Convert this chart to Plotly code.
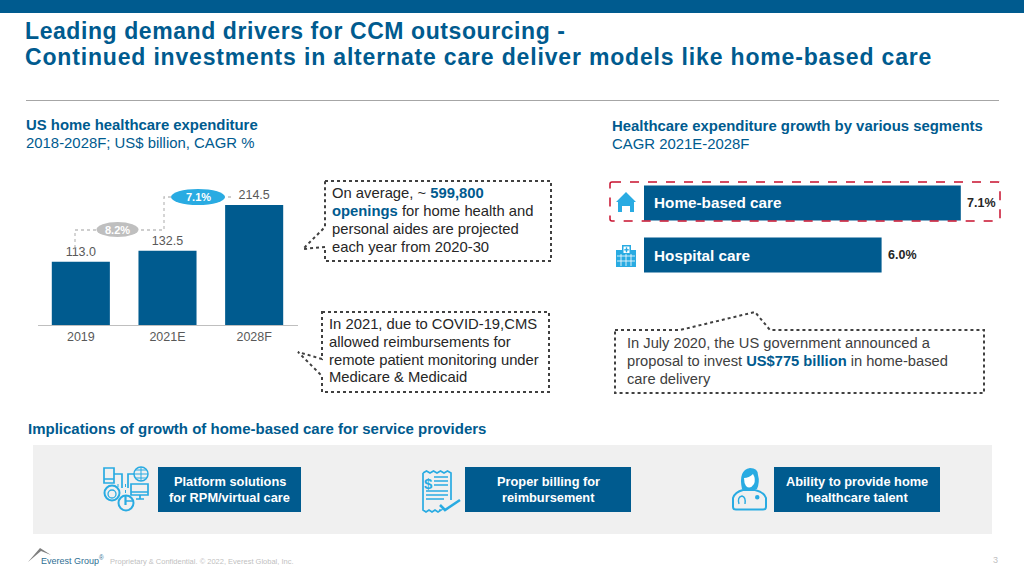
import plotly.graph_objects as go

# ---- data ----
exp_categories = ["2019", "2021E", "2028F"]
exp_values = [113.0, 132.5, 214.5]
exp_labels = ["113.0", "132.5", "214.5"]
cagr_labels_left = ["8.2%", "7.1%"]
segment_names = ["Home-based care", "Hospital care"]
segment_values = [7.1, 6.0]
segment_labels = ["7.1%", "6.0%"]
title_lines = ["Leading demand drivers for CCM outsourcing -",
               "Continued investments in alternate care deliver models like home-based care"]
driver_labels = [["Platform solutions", "for RPM/virtual care"],
                 ["Proper billing for", "reimbursement"],
                 ["Ability to provide home", "healthcare talent"]]

BLUE = "#005B8F"
SKY = "#29ABE2"
GRAY = "#595959"
DARK = "#262626"
FONT = "Liberation Sans"
W, H = 1024, 576

fig = go.Figure()
fig.add_trace(go.Bar(x=exp_categories, y=exp_values, text=exp_labels, textposition="outside",
                     marker=dict(color=BLUE, line_width=0), width=0.67,
                     textfont=dict(size=12.5, color=GRAY, family=FONT), cliponaxis=False,
                     xaxis="x", yaxis="y", showlegend=False))
fig.add_trace(go.Bar(y=segment_names, x=segment_values, orientation="h",
                     marker=dict(color=BLUE, line_width=0), width=0.673,
                     xaxis="x2", yaxis="y2", showlegend=False))

shapes, ann = [], []
def S(**k):
    k.setdefault("xref", "x3"); k.setdefault("yref", "y3"); k.setdefault("layer", "below")
    shapes.append(k)
def rect(x0, y0, x1, y1, fill, layer="below"):
    S(type="rect", x0=x0, y0=y0, x1=x1, y1=y1, fillcolor=fill, line_width=0, layer=layer)
def path(d, fill=None, line=None, w=1.0, dash=None, layer="above"):
    ln = dict(color=line or "rgba(0,0,0,0)", width=w if line else 0)
    if dash: ln["dash"] = dash
    S(type="path", path=d, fillcolor=fill or "rgba(0,0,0,0)", line=ln, layer=layer)
def T(x, y, text, size=14, color=DARK, anchor="left"):
    ann.append(dict(x=x, y=y - 1, xref="x3", yref="y3", text=text, showarrow=False, xanchor=anchor,
                    yanchor="middle", align=anchor, borderpad=0, borderwidth=0,
                    font=dict(family=FONT, size=size, color=color)))
def lines(x, ys, texts, size=14.8, color=DARK, anchor="left"):
    for y, t in zip(ys, texts):
        T(x, y, t, size=size, color=color, anchor=anchor)

# page furniture
rect(0, 0, 1024, 13, BLUE)
S(type="line", x0=26, x1=999, y0=100.5, y1=100.5, line=dict(color="#A6A6A6", width=1))
lines(25, (32, 57.5), ["<b>" + t + "</b>" for t in title_lines], size=23, color=BLUE)
lines(26, (126, 144), ["<b>US home healthcare expenditure</b>", "2018-2028F; US$ billion, CAGR %"], size=14.9, color=BLUE)
lines(612, (127, 145), ["<b>Healthcare expenditure growth by various segments</b>", "CAGR 2021E-2028F"], size=14.9, color=BLUE)
T(28, 429, "<b>Implications of growth of home-based care for service providers</b>", size=15, color=BLUE)

# CAGR connectors and pills
CONN = dict(color="#BFBFBF", width=1.3, dash="dot")
S(type="path", path="M75,248 V230 H164 V197 H232", line=CONN, layer="above")
def pill(cx, cy, rx, ry, fill, label):
    S(type="circle", x0=cx-rx, x1=cx+rx, y0=cy-ry, y1=cy+ry, fillcolor=fill, line_width=0, layer="above")
    T(cx, cy + 1, "<b>" + label + "</b>", size=11, color="#FFFFFF", anchor="center")
pill(117.5, 229.5, 21, 7.5, "#BFBFBF", cagr_labels_left[0])
pill(198, 197, 27, 8, SKY, cagr_labels_left[1])

# callouts
D = dict(line="#404040", w=2, dash="dot")
path("M325,181 H551 V261 H325 V247 L303,249 L325,227 Z", **D)
path("M322,312 H549 V392 H322 V376 L298,352 L322,359 Z", **D)
path("M615,330 H680 L755,312 L770,330 H984 V393 H615 Z", **D)
HL = '<span style="color:%s"><b>%%s</b></span>' % BLUE
lines(332, (194, 212, 230, 248), ["On average, ~ " + HL % "599,800", HL % "openings" + " for home health and",
                                  "personal aides are projected", "each year from 2020-30"])
lines(329, (325, 343, 361, 378), ["In 2021, due to COVID-19,CMS", "allowed reimbursements for",
                                  "remote patient monitoring under", "Medicare &amp; Medicaid"])
lines(627, (344, 362, 380), ["In July 2020, the US government announced a",
                             "proposal to invest " + HL % "US$775 billion" + " in home-based", "care delivery"],
      size=14.7, color="#404040")

# highlight box, segment labels
path("M612,182 H998 Q1000,182 1000,184 V219 Q1000,221 998,221 H612 Q610,221 610,219 V184 Q610,182 612,182 Z",
     line="#C8102E", w=1.5, dash="dash")
T(654, 203, "<b>" + segment_names[0] + "</b>", size=15.3, color="#FFFFFF")
T(654, 256, "<b>" + segment_names[1] + "</b>", size=15.3, color="#FFFFFF")
for n, v, l in zip(segment_names, segment_values, segment_labels):
    ann.append(dict(x=v, y=n, xref="x2", yref="y2", text="<b>" + l + "</b>", showarrow=False, xanchor="left",
                    xshift=6, borderpad=0, borderwidth=0, font=dict(family=FONT, size=12.5, color=DARK)))

# house icon
path("M616,202 L626,192 L636,202 L634,202 L634,212 L630,212 L630,206 L622,206 L622,212 L618,212 L618,202 Z", fill=SKY)
# hospital icon
path("M622,245 H631 V250 H636 V267 H616 V250 H622 Z", fill=SKY)
rect(623.5, 246.5, 629.5, 253, "#FFFFFF", "above")
rect(625.8, 247.3, 627.2, 252.3, SKY, "above"); rect(624.3, 249.1, 628.7, 250.5, SKY, "above")
for yy in (256, 261):
    S(type="line", x0=617, x1=635, y0=yy, y1=yy, line=dict(color="#FFFFFF", width=0.8), layer="above")
for xx in (621, 626, 631):
    S(type="line", x0=xx, x1=xx, y0=254, y1=266, line=dict(color="#FFFFFF", width=0.8), layer="above")

# bottom panel
rect(33, 445, 992, 534, "#F0F0F0")
for x0, x1, lab in zip((158, 465, 774), (301, 631, 940), driver_labels):
    rect(x0, 467, x1, 512, BLUE)
    lines((x0 + x1) / 2, (482.5, 498), ["<b>" + t + "</b>" for t in lab], size=12.8, color="#FFFFFF", anchor="center")

IC = dict(line=SKY, w=1.7)
NOFILL = "rgba(0,0,0,0)"
def ring(cx, cy, r, w=1.7):
    S(type="circle", x0=cx-r, x1=cx+r, y0=cy-r, y1=cy+r, line=dict(color=SKY, width=w), layer="above", fillcolor=NOFILL)
# devices icon
path("M104,468 H114 V483 H104 Z M104,479 H114", **IC)
path("M114,474 H122 V488", **IC)
ring(141, 474, 7, 1.5)
path("M134,474 H148 M141,467 V481 M136,470 H146 M136,478 H146", line=SKY, w=1)
path("M134,474 H128 V488", **IC)
path("M131,484 H148 V495 H131 Z M131,492 H148", **IC)
path("M136,499 H144 M140,495 V499 M133,501 H126", **IC)
ring(112, 493, 7.5, 2); ring(112, 494, 4, 1.3)
ring(126, 503, 7.5, 2)
path("M125.5,496 V505", line=SKY, w=2.2)
path("M125.5,484 V494 M118,484 V488", line=SKY, w=1, dash="dot")
# receipt icon
wave_top = "M423,473 " + " ".join("L%g,%g" % (423 + 3.5 * i, 471 if i % 2 else 473) for i in range(1, 9))
wave_bot = " ".join("L%g,%g" % (441 - 3 * i, 512 if i % 2 else 510) for i in range(0, 7))
path(wave_top + " V500 M439,510 " + wave_bot + " L423,473", **IC)
T(428, 484, "<b>$</b>", size=15, color=SKY, anchor="center")
path("M434,477 H448 M434,481 H448 M434,485 H448 M426,491 H448 M426,495 H448 M426,499 H444", line=SKY, w=1.5)
path("M440,505 L445,510 L460,500", line=SKY, w=2.6)
# doctor icon
path("M742,489 Q738,470 750,468 Q758,468 758,475 Q760,482 757,489 Z", fill=SKY)
path("M744,478 Q749,478 753,474 Q756,479 754,484 Q750,490 746,486 Q744,483 744,478 Z", fill="#FFFFFF")
path("M733,498 Q735,492 743,490 H755 Q764,492 766,498 V507 Q766,509.5 763,509.5 H736 Q733,509.5 733,507 Z", line=SKY, w=2)
path("M739,504 Q737,497 742,496 Q746,497 745,504", line=SKY, w=1.4)
S(type="circle", x0=755, x1=759.5, y0=495, y1=499.5, fillcolor=SKY, line_width=0, layer="above")

# footer
path("M28,562 L40,548 L51,555 L41,551 Z", fill="#7F7F7F")
T(41, 561, "Everest Group<sup>®</sup>", size=9, color="#2F6F94")
T(110, 562, "Proprietary &amp; Confidential. © 2022, Everest Global, Inc.", size=7.5, color="#BFBFBF")
T(998, 561, "3", size=9, color="#BFBFBF", anchor="right")

axis_off = dict(visible=False, fixedrange=True)
L_PX = 120 / 214.5  # px per value on the left chart
fig.update_layout(
    width=W, height=H, autosize=False, margin=dict(l=0, r=0, t=0, b=0),
    paper_bgcolor="white", plot_bgcolor="rgba(0,0,0,0)", showlegend=False,
    font=dict(family=FONT),
    xaxis=dict(domain=[37.5/W, 297.5/W], type="category", range=[-0.5, 2.5], showgrid=False, showline=True,
               linecolor="#BFBFBF", linewidth=1, ticks="", tickfont=dict(size=12.5, color=GRAY, family=FONT), anchor="y"),
    yaxis=dict(domain=[1-325/H, 1-180/H], range=[0, 145/L_PX], visible=False, anchor="x"),
    xaxis2=dict(domain=[644/W, 1000/W], range=[2.7, 2.7+356/72], visible=False, anchor="y2"),
    yaxis2=dict(domain=[1-281/H, 1-177/H], type="category", range=[1.5, -0.5], visible=False, anchor="x2"),
    xaxis3=dict(domain=[0, 1], range=[0, W], anchor="y3", **axis_off),
    yaxis3=dict(domain=[0, 1], range=[H, 0], anchor="x3", **axis_off),
    shapes=shapes, annotations=ann,
)
fig.write_html("out.html", config=dict(displayModeBar=False),
               post_script="document.body.style.margin='0';document.body.style.overflow='hidden';"
               "document.querySelectorAll('.annotation-text').forEach(function(t){"
               "if(t.textContent.indexOf('Leading demand')===0){t.style.letterSpacing='0.58px';}"
               "if(t.textContent.indexOf('Continued inv')===0){t.style.letterSpacing='0.83px';}});")
